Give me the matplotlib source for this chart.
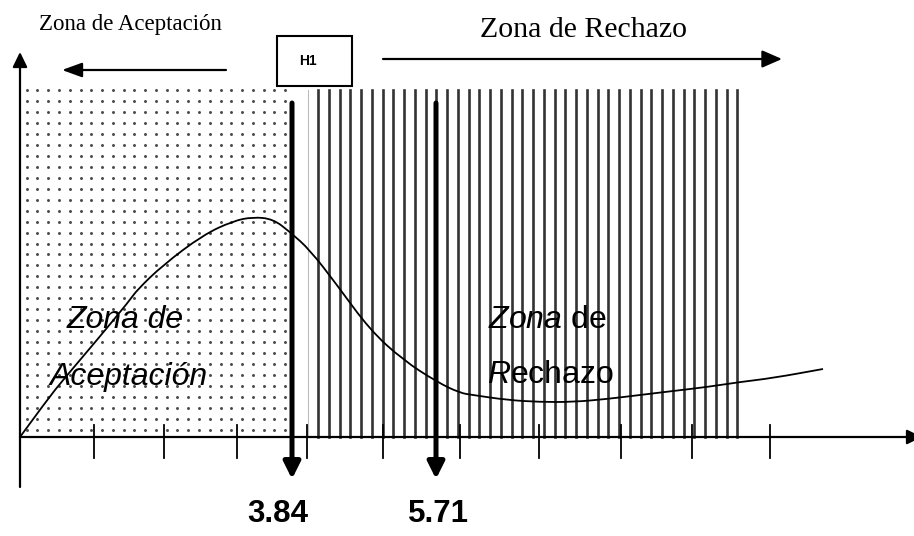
import numpy as np
import matplotlib
matplotlib.use('Agg')
import matplotlib.pyplot as plt
from matplotlib.patches import Rectangle, PathPatch
from matplotlib.path import Path

plt.rcParams['mathtext.fontset'] = 'custom'
plt.rcParams['mathtext.rm'] = 'Liberation Sans'
plt.rcParams['mathtext.it'] = 'Liberation Sans:italic'

# curve (x from the origin, y up)
curve_x = [0, 27, 43, 77, 110, 117, 143, 183, 213, 233, 253, 270, 290, 317, 350,
           383, 417, 440, 453, 487, 520, 553, 587, 620, 653, 687, 720, 753, 803]
curve_y = [0, 37, 57, 97, 137, 147, 172, 202, 216, 220, 218, 205, 187, 152, 107,
           77, 55, 44, 42, 37, 35, 35, 38, 42, 46, 50, 55, 59, 68]

tick_x = [74, 144, 217, 287, 363, 440, 519, 601, 672, 750]
crit_x = [272, 416]
crit_labels = ['3.84', '5.71']
crit_label_x = [258, 418]

accept_box = (0, 268, 347)      # x0, x1, top
reject_box = (298, 717, 347)

fig = plt.figure(figsize=(9.14, 5.36), dpi=100)
ax = fig.add_axes([0, 0, 1, 1])
ax.set_xlim(-20, 894)
ax.set_ylim(-99, 437)
ax.axis('off')

# dotted acceptance zone
dx = np.arange(6.7, accept_box[1] + 1, 10.77)
dy = np.arange(7, accept_box[2] + 1, 10.97)
gx, gy = np.meshgrid(dx, dy)
ax.scatter(gx.ravel(), gy.ravel(), s=4.5, color='#484848', lw=0, zorder=1)

# striped rejection zone
for sx in np.arange(reject_box[0], reject_box[1] + 1, 10.75):
    ax.plot([sx, sx], [0, reject_box[2]], color='#333333', lw=1.9, zorder=1)
ax.plot([288, 288], [0, reject_box[2]], color='#bbbbbb', lw=0.8, zorder=1)

# curve, drawn smooth through the read points
pts = np.column_stack([curve_x, curve_y]).astype(float)
verts = [pts[0]]
codes = [Path.MOVETO]
for i in range(1, len(pts) - 1):
    verts += [pts[i], (pts[i] + pts[i + 1]) / 2]
    codes += [Path.CURVE3, Path.CURVE3]
verts.append(pts[-1])
codes.append(Path.LINETO)
ax.add_patch(PathPatch(Path(verts, codes), fill=False, ec='k', lw=1.3, zorder=3))

# axes with arrows
ax.annotate('', xy=(0, 385), xytext=(0, -50), annotation_clip=False,
            arrowprops=dict(arrowstyle='-|>,head_length=0.45,head_width=0.22',
                            color='k', lw=1.6, mutation_scale=20, shrinkA=0, shrinkB=0))
ax.annotate('', xy=(902, 0), xytext=(0, 0), annotation_clip=False,
            arrowprops=dict(arrowstyle='-|>,head_length=0.45,head_width=0.22',
                            color='k', lw=1.6, mutation_scale=20, shrinkA=0, shrinkB=0))
for t in tick_x:
    ax.plot([t, t], [-21, 12], color='k', lw=1.3, zorder=4)

# critical values
for cx, lx, lab in zip(crit_x, crit_label_x, crit_labels):
    ax.annotate('', xy=(cx, -42), xytext=(cx, 334),
                arrowprops=dict(arrowstyle='-|>,head_length=1.0,head_width=0.5',
                                color='k', lw=3.6, mutation_scale=10, shrinkA=0, shrinkB=0),
                zorder=5)
    ax.text(lx, -85, lab, ha='center', va='baseline', fontsize=22.5,
            fontweight='bold', family='Liberation Sans')

# top arrows and labels
ax.annotate('', xy=(42, 367), xytext=(206, 367),
            arrowprops=dict(arrowstyle='-|>,head_length=0.55,head_width=0.2',
                            color='k', lw=1.6, mutation_scale=22, shrinkA=0, shrinkB=0))
ax.annotate('', xy=(762, 378), xytext=(363, 378),
            arrowprops=dict(arrowstyle='-|>,head_length=0.55,head_width=0.24',
                            color='k', lw=1.6, mutation_scale=22, shrinkA=0, shrinkB=0))
ax.add_patch(Rectangle((257, 351), 75, 50, fill=False, ec='k', lw=1.5, zorder=5))
ax.text(288, 372, 'H1', ha='center', va='baseline', fontsize=10,
        fontweight='bold', family='Liberation Sans')

ax.text(19, 407, 'Zona de Aceptación', fontsize=16.5, family='Liberation Serif',
        va='baseline')
ax.text(460, 400, 'Zona de Rechazo', fontsize=21.5, family='Liberation Serif',
        va='baseline')

# zone labels
lab = dict(fontsize=23, family='Liberation Sans', va='baseline', zorder=6)
ax.text(47, 109, 'Zona de', style='italic', **lab)
ax.text(30, 52, 'Aceptación', style='italic', **lab)
ax.text(468, 109, r'$\mathit{Zona}$ de', **lab)
ax.text(467, 54, r'$\mathit{R}$echazo', **lab)

fig.savefig('out.png', dpi=100)
